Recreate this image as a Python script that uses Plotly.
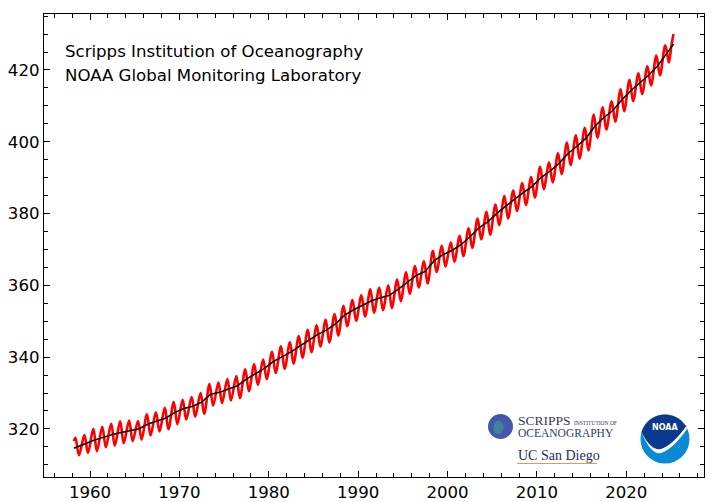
import math
import plotly.graph_objects as go

# Mauna Loa CO2 (ppm)
years = list(range(1958, 2025))
may_peak = [
    317.5, 318.3, 320.0, 320.6, 321.4, 322.1, 322.3, 322.2, 324.1, 324.6,
    325.9, 327.5, 328.1, 328.9, 330.0, 332.5, 332.9, 333.9, 334.7, 336.6,
    338.0, 339.3, 341.5, 343.0, 344.1, 345.9, 347.6, 348.9, 350.4, 352.0,
    354.3, 355.9, 357.2, 358.9, 359.3, 360.0, 361.6, 363.6, 365.4, 366.7,
    369.6, 371.0, 372.0, 373.8, 375.9, 378.6, 380.5, 382.5, 384.9, 386.4,
    388.5, 390.2, 393.0, 394.2, 396.8, 399.8, 401.8, 403.9, 407.6, 409.6,
    411.3, 414.6, 417.3, 419.1, 421.0, 424.0, 426.9,
]
autumn_low = [
    312.7, 313.3, 313.8, 314.9, 315.3, 316.0, 316.6, 317.0, 318.2, 319.3,
    319.9, 321.3, 322.6, 323.4, 324.2, 326.5, 327.2, 327.9, 328.6, 330.5,
    332.3, 333.9, 335.6, 336.7, 338.2, 339.8, 341.4, 343.0, 344.1, 346.0,
    348.6, 350.1, 351.3, 352.4, 353.1, 353.7, 355.6, 357.6, 359.4, 360.5,
    363.7, 365.2, 366.6, 368.1, 370.4, 372.8, 374.1, 376.8, 378.6, 380.7,
    382.4, 384.4, 386.8, 388.7, 391.0, 393.5, 395.3, 397.6, 401.1, 403.4,
    405.6, 408.5, 411.3, 413.3, 415.7, 418.5, 422.1,
]
trend_years = list(range(1959, 2025))
annual_mean = [
    315.98, 316.91, 317.64, 318.45, 318.99, 319.62, 320.04, 321.37, 322.18, 323.05,
    324.62, 325.68, 326.32, 327.46, 329.68, 330.19, 331.13, 332.03, 333.84, 335.41,
    336.84, 338.76, 340.12, 341.48, 343.15, 344.87, 346.35, 347.61, 349.31, 351.69,
    353.20, 354.45, 355.70, 356.54, 357.21, 358.96, 360.97, 362.74, 363.88, 366.84,
    368.54, 369.71, 371.32, 373.45, 375.98, 377.70, 379.98, 382.09, 384.02, 385.83,
    387.64, 390.10, 391.85, 394.06, 396.74, 398.81, 401.01, 404.41, 406.76, 408.72,
    411.65, 414.21, 416.41, 418.53, 421.08, 424.61,
]
start_date, start_co2, start_trend = 1958.2, 316.6, 314.6
end_dates = [2025.04, 2025.29]
end_co2 = [426.6, 430.0]
end_trend = 427.2

# monthly curve: start, May peak / autumn low each year, last months
mx, my = [start_date], [start_co2]
for yr, hi, lo in zip(years, may_peak, autumn_low):
    mx += [yr + 0.37, yr + 0.77]
    my += [hi, lo]
mx += end_dates
my += end_co2

tx = [start_date] + [yr + 0.5 for yr in trend_years] + [end_dates[-1]]
ty = [start_trend] + annual_mean + [end_trend]

fig = go.Figure()
fig.add_trace(go.Scatter(x=mx, y=my, mode="lines",
                         line=dict(color="#ff0000", width=2.6, shape="spline", smoothing=1.0)))
fig.add_trace(go.Scatter(x=tx, y=ty, mode="lines",
                         line=dict(color="black", width=1.5)))

# plot area in pixels
L, R, T, B = 44, 7, 14, 25
W, H = 711, 502
pw, ph = W - L - R, H - T - B


def px(x, y):
    return (x - L) / pw, (H - B - y) / ph


shapes = []
ann = []

# Scripps logo (approximation)
gx, gy = px(500.5, 426.5)
shapes.append(dict(type="circle", xref="paper", yref="paper", xsizemode="pixel", ysizemode="pixel",
                   xanchor=gx, yanchor=gy, x0=-12.5, x1=12.5, y0=-12.5, y1=12.5,
                   fillcolor="#4557a8", line=dict(width=0)))
shapes.append(dict(type="circle", xref="paper", yref="paper", xsizemode="pixel", ysizemode="pixel",
                   xanchor=gx, yanchor=gy, x0=-7, x1=3, y0=-8, y1=6,
                   fillcolor="#3f8f93", line=dict(width=0), opacity=0.8))
for text, x, y, size in [("SCRIPPS", 516, 420.5, 13.5), ("OCEANOGRAPHY", 516, 432.5, 11.5)]:
    ax, ay = px(x, y)
    ann.append(dict(text=text, x=ax, y=ay, xref="paper", yref="paper", xanchor="left", yanchor="middle",
                    showarrow=False, font=dict(family="Liberation Serif", size=size, color="#2f3b6c")))
ax, ay = px(572, 422.5)
ann.append(dict(text="INSTITUTION OF", x=ax, y=ay, xref="paper", yref="paper", xanchor="left",
                yanchor="middle", showarrow=False,
                font=dict(family="Liberation Serif", size=5.5, color="#2f3b6c")))
ax, ay = px(516, 455)
ann.append(dict(text="UC San Diego", x=ax, y=ay, xref="paper", yref="paper", xanchor="left",
                yanchor="middle", showarrow=False,
                font=dict(family="Liberation Serif", size=14, color="#1f2f5e")))
ux0, uy = px(517, 463.5)
ux1, _ = px(597, 463.5)
shapes.append(dict(type="line", xref="paper", yref="paper", x0=ux0, x1=ux1, y0=uy, y1=uy,
                   line=dict(color="#c9a64f", width=1)))

# NOAA logo (approximation)
nx, ny = px(665, 439)
r = 24.5
shapes.append(dict(type="circle", xref="paper", yref="paper", xsizemode="pixel", ysizemode="pixel",
                   xanchor=nx, yanchor=ny, x0=-r, x1=r, y0=-r, y1=r,
                   fillcolor="#0a8ad6", line=dict(width=0)))


def dome(drop):
    a0, a1 = math.atan2(14, 22), math.atan2(7, -24)
    pts = []
    for i in range(25):
        a = a0 + (a1 - a0) * i / 24
        pts.append((r * math.cos(a), r * math.sin(a)))
    p = "M %.2f,%.2f " % pts[0] + " ".join("L %.2f,%.2f" % q for q in pts[1:])
    p += " Q -14,%.1f -4,%.1f Q 8,%.1f 22,%.1f Z" % (-12 - drop, -10 - drop, -6 - drop, 14 - drop)
    return p


for drop, col in [(4, "white"), (0, "#0b3a8c")]:
    shapes.append(dict(type="path", xref="paper", yref="paper", xsizemode="pixel", ysizemode="pixel",
                       xanchor=nx, yanchor=ny, path=dome(drop), fillcolor=col, line=dict(width=0)))
ax, ay = px(665, 427)
ann.append(dict(text="<b>NOAA</b>", x=ax, y=ay, xref="paper", yref="paper", xanchor="center",
                yanchor="middle", showarrow=False,
                font=dict(family="DejaVu Sans", size=8, color="white")))

# institutions
for text, y in [("Scripps Institution of Oceanography", 51), ("NOAA Global Monitoring Laboratory", 75)]:
    ax, ay = px(63, y)
    ann.append(dict(text=text, x=ax, y=ay, xref="paper", yref="paper", xanchor="left", yanchor="middle",
                    showarrow=False, font=dict(family="DejaVu Sans", size=16.6, color="black")))

axis_style = dict(showline=True, linecolor="black", linewidth=1.3, mirror="allticks",
                  ticks="inside", ticklen=6, tickwidth=1, tickcolor="black",
                  showgrid=False, zeroline=False, automargin=False,
                  tickfont=dict(family="DejaVu Sans", size=16.6, color="black"))

fig.update_layout(
    width=W, height=H,
    margin=dict(l=L, r=R, t=T, b=B),
    plot_bgcolor="white", paper_bgcolor="white",
    showlegend=False,
    shapes=shapes, annotations=ann,
    xaxis=dict(range=[1954.85, 2028.7], tick0=1960, dtick=10,
               minor=dict(dtick=2, tick0=1960, ticks="inside", ticklen=3.5, tickcolor="black"),
               **axis_style),
    yaxis=dict(range=[306.6, 435.6], tick0=320, dtick=20,
               minor=dict(dtick=5, tick0=320, ticks="inside", ticklen=3.5, tickcolor="black"),
               **axis_style),
)

# page has a default body margin; drop it so the 711x502 figure fills the window
fig.write_html("out.html", config={"displayModeBar": False},
               post_script="document.body.style.margin='0px';")
